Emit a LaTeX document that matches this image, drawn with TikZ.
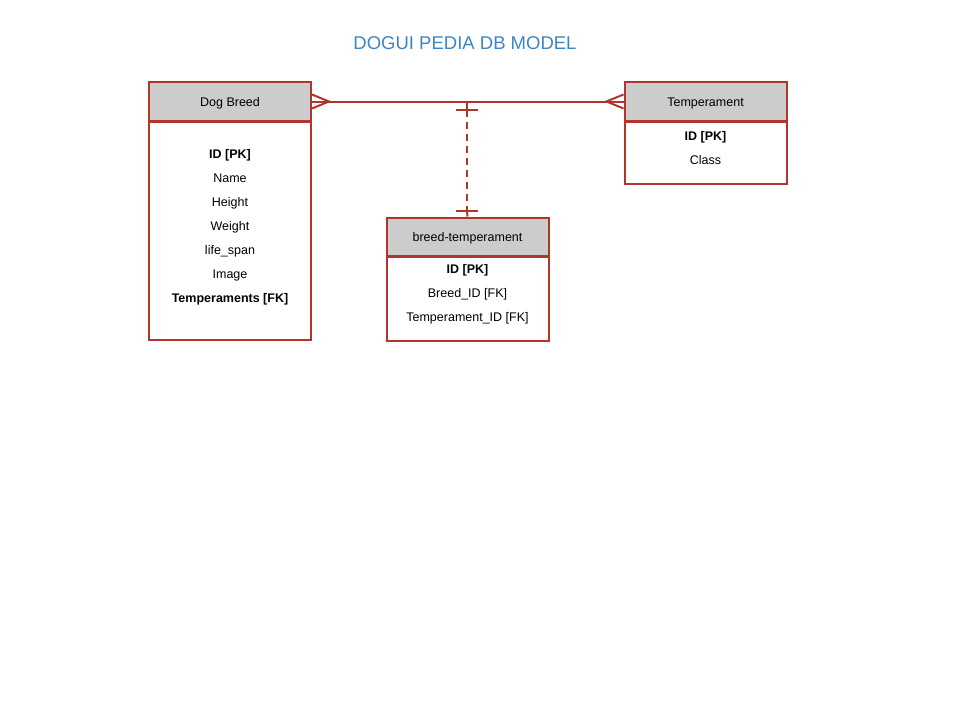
\documentclass[tikz,border=0pt]{standalone}
\usepackage{fontspec}
\setmainfont{Liberation Sans}
\usetikzlibrary{positioning}
\definecolor{rel}{RGB}{176,54,44}
\definecolor{hdr}{RGB}{204,204,204}
\definecolor{ttl}{RGB}{61,133,198}
\tikzset{
  hdrbox/.style={draw=rel, line width=2pt, fill=hdr, minimum width=162pt, minimum height=39pt, inner sep=0pt, text depth=0pt, text height=9pt, font=\fontsize{12.5}{14}\selectfont},
  bodybox/.style={draw=rel, line width=2pt, fill=white, minimum width=162pt, inner sep=0pt, anchor=north},
  fld/.style={font=\fontsize{12.5}{14}\selectfont, inner sep=0pt, text depth=0pt, text height=9pt},
  bfld/.style={font=\fontsize{12.5}{14}\selectfont\bfseries, inner sep=0pt, text depth=0pt, text height=9pt},
  relline/.style={draw=rel, line width=2pt},
}
\begin{document}
\begin{tikzpicture}[x=1pt,y=-1pt]
\useasboundingbox (0,0) rectangle (960,720);
\node[font=\fontsize{18.5}{20}\selectfont, text=ttl, text depth=0pt] (title) at (465,43) {DOGUI PEDIA DB MODEL};

% Dog Breed
\node[bodybox, minimum height=218pt] (dbb) at (230,121) {};
\node[hdrbox] (dbh) at (230,101.5) {Dog Breed};
\node[bfld] (db1) at (230,154) {ID [PK]};
\node[fld] (db2) at (230,178) {Name};
\node[fld] (db3) at (230,202) {Height};
\node[fld] (db4) at (230,226) {Weight};
\node[fld] (db5) at (230,250) {life\_span};
\node[fld] (db6) at (230,274) {Image};
\node[bfld] (db7) at (230,298) {Temperaments [FK]};

% Temperament
\node[bodybox, minimum height=62pt] (tb) at (705.5,121) {};
\node[hdrbox] (th) at (705.5,101.5) {Temperament};
\node[bfld] (t1) at (705.5,136) {ID [PK]};
\node[fld] (t2) at (705.5,160) {Class};

% breed-temperament
\node[bodybox, minimum height=84pt] (btb) at (467.5,255.5) {};
\node[hdrbox, minimum height=38pt] (bth) at (467.5,236.5) {breed-temperament};
\node[bfld] (bt1) at (467.5,269) {ID [PK]};
\node[fld] (bt2) at (467.5,293) {Breed\_ID [FK]};
\node[fld] (bt3) at (467.5,317) {Temperament\_ID [FK]};

% relation line with crow's feet
\draw[relline] (dbh.east) -- (th.west);
\draw[relline] ([yshift=7pt]dbh.east) -- ([xshift=17pt]dbh.east) -- ([yshift=-7pt]dbh.east);
\draw[relline] ([yshift=7pt]th.west) -- ([xshift=-17pt]th.west) -- ([yshift=-7pt]th.west);

% dashed link
\coordinate (m) at (467,102);
\coordinate (mb) at (467,110);
\coordinate (nb) at (467,211);
\draw[relline] (m) -- (mb);
\draw[relline] ([xshift=-11pt]mb) -- ([xshift=11pt]mb);
\draw[relline, dash pattern=on 7pt off 5pt] (mb) -- (nb);
\draw[relline] ([xshift=-11pt]nb) -- ([xshift=11pt]nb);
\draw[relline] (nb) -- (bth.north);
\end{tikzpicture}
\end{document}
